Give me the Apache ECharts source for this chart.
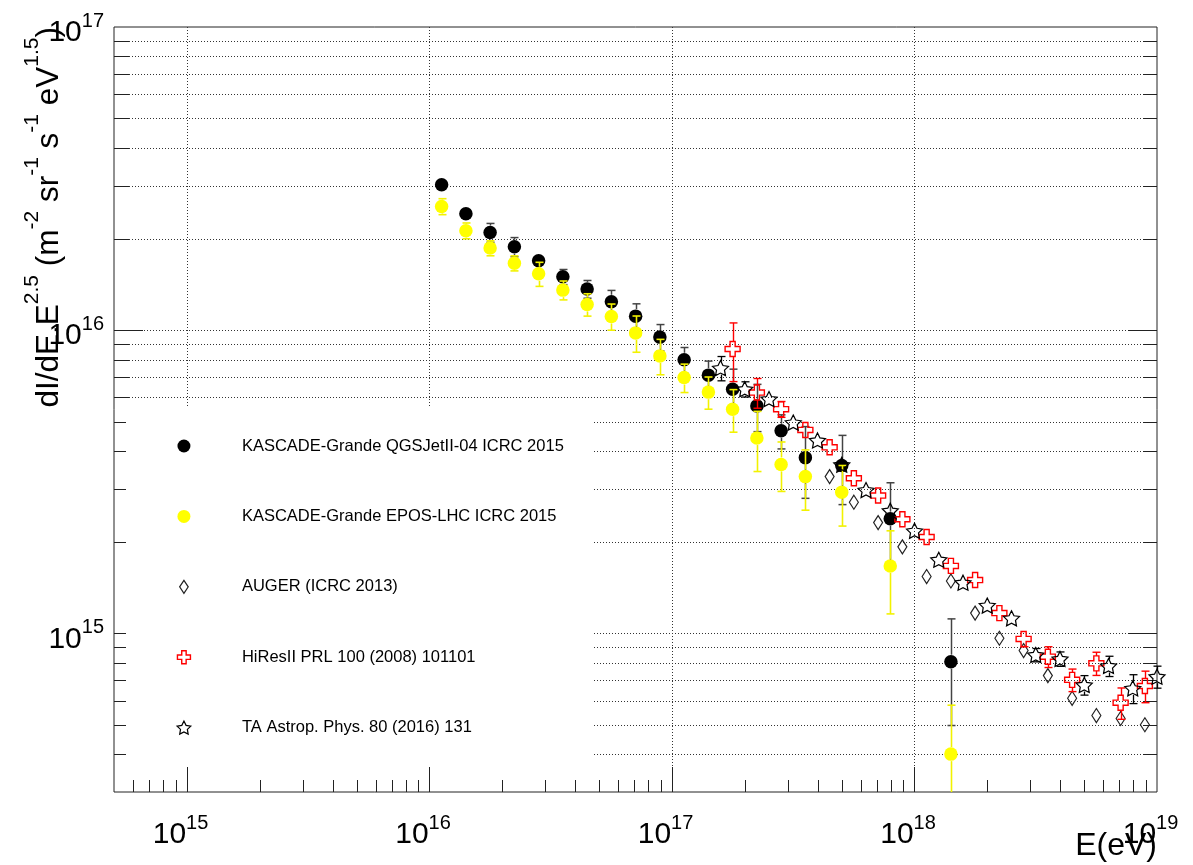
<!DOCTYPE html>
<html>
<head>
<meta charset="utf-8">
<script src="https://cdn.jsdelivr.net/npm/echarts@6/dist/echarts.min.js"></script>
<style>
  html, body { margin: 0; padding: 0; background: #fff; }
  #chart { width: 1193px; height: 865px; }
</style>
</head>
<body>
<div id="chart"></div>
<script>
// ---- data: energy (eV) and flux dI/dE * E^2.5 ----
const seriesNames = [
  'KASCADE-Grande QGSJetII-04 ICRC 2015',
  'KASCADE-Grande EPOS-LHC ICRC 2015',
  'AUGER (ICRC 2013)',
  'HiResII PRL 100 (2008) 101101',
  'TA Astrop. Phys. 80 (2016) 131'
];

const kgEnergy = [1.122e16, 1.413e16, 1.778e16, 2.239e16, 2.818e16, 3.548e16, 4.467e16, 5.623e16, 7.079e16, 8.913e16,
                  1.122e17, 1.413e17, 1.778e17, 2.239e17, 2.818e17, 3.548e17, 5.012e17, 7.943e17, 1.413e18];
const qgsFlux = [3.02e16, 2.42e16, 2.10e16, 1.884e16, 1.694e16, 1.50e16, 1.367e16, 1.241e16, 1.113e16, 9.49e15,
                 7.99e15, 7.11e15, 6.39e15, 5.63e15, 4.66e15, 3.80e15, 3.58e15, 2.39e15, 8.07e14];
const qgsErr  = [1.4e15, 1.1e15, 1.5e15, 1.37e15, 0.8e15, 0.86e15, 0.92e15, 1.12e15, 1.09e15, 0.95e15,
                 0.78e15, 0.8e15, 1.05e15, 1.0e15, 0.6e15, 1.01e15, 0.92e15, 0.75e15, 3.1e14];
const eposFlux = [2.56e16, 2.13e16, 1.866e16, 1.664e16, 1.535e16, 1.356e16, 1.216e16, 1.110e16, 9.80e15, 8.23e15,
                  6.98e15, 6.25e15, 5.49e15, 4.41e15, 3.61e15, 3.29e15, 2.92e15, 1.67e15, 4.0e14];
const eposErr  = [1.55e15, 1.28e15, 1.06e15, 0.95e15, 1.4e15, 0.97e15, 1.03e15, 1.1e15, 1.34e15, 1.1e15,
                  0.75e15, 0.76e15, 0.88e15, 0.99e15, 0.67e15, 0.74e15, 0.66e15, 0.51e15, 1.8e14];

const augerEnergy = [4.467e17, 5.623e17, 7.079e17, 8.913e17, 1.122e18, 1.413e18, 1.778e18, 2.239e18, 2.818e18,
                     3.548e18, 4.467e18, 5.623e18, 7.079e18, 8.913e18];
const augerFlux   = [3.29e15, 2.71e15, 2.32e15, 1.93e15, 1.54e15, 1.49e15, 1.167e15, 9.64e14, 8.78e14,
                     7.26e14, 6.11e14, 5.36e14, 5.24e14, 5.0e14];

const hiresEnergy = [1.778e17, 2.239e17, 2.818e17, 3.548e17, 4.467e17, 5.623e17, 7.079e17, 8.913e17, 1.122e18,
                     1.413e18, 1.778e18, 2.239e18, 2.818e18, 3.548e18, 4.467e18, 5.623e18, 7.079e18, 8.913e18];
const hiresFlux   = [8.67e15, 6.23e15, 5.49e15, 4.69e15, 4.11e15, 3.25e15, 2.85e15, 2.38e15, 2.08e15,
                     1.67e15, 1.50e15, 1.167e15, 9.59e14, 8.38e14, 7.03e14, 7.97e14, 5.91e14, 6.71e14];
const hiresErr    = [1.9e15, 0.7e15, 0.33e15, 0.22e15, 0.15e15, 0.12e15, 0.1e15, 0.08e15, 0.07e15,
                     0.06e15, 0.05e15, 0.04e15, 0.55e14, 0.66e14, 0.6e14, 0.7e14, 0.7e14, 0.8e14];

const taEnergy = [1.585e17, 1.995e17, 2.512e17, 3.162e17, 3.981e17, 5.012e17, 6.310e17, 7.943e17, 1.0e18, 1.259e18,
                  1.585e18, 1.995e18, 2.512e18, 3.162e18, 3.981e18, 5.012e18, 6.310e18, 7.943e18, 1.0e19];
const taFlux   = [7.50e15, 6.39e15, 5.93e15, 4.96e15, 4.33e15, 3.6e15, 2.97e15, 2.54e15, 2.18e15, 1.75e15,
                  1.47e15, 1.236e15, 1.122e15, 8.49e14, 8.24e14, 6.76e14, 7.81e14, 6.59e14, 7.2e14];
const taErr    = [0.69e15, 0.37e15, 0.25e15, 0.15e15, 0.12e15, 0.1e15, 0.09e15, 0.08e15, 0.07e15, 0.06e15,
                  0.055e15, 0.05e15, 0.05e15, 0.43e14, 0.45e14, 0.5e14, 0.6e14, 0.72e14, 0.6e14];

// ---- axes ----
const xRange = [5e14, 1e19];
const yRange = [3e14, 1e17];
const xDecades = [15, 16, 17, 18, 19];   // labelled x ticks: 10^n
const yDecades = [15, 16, 17];           // labelled y ticks: 10^n
const xTitle = 'E(eV)';
const yTitle = '{tb|dI/dE.E}{ts|2.5}{tb| (m}{ts|-2}{tb| sr}{ts|-1}{tb| s}{ts|-1}{tb| eV}{ts|1.5}{tb|)}';

const FONT = '"Liberation Sans", Arial, Helvetica, sans-serif';

// minor ticks at 2..9 x 10^n inside the range
function minorTicks(range) {
  const out = [];
  const d0 = Math.floor(Math.log10(range[0])), d1 = Math.ceil(Math.log10(range[1]));
  for (let d = d0; d < d1; d++) {
    for (let k = 2; k <= 9; k++) {
      const v = k * Math.pow(10, d);
      if (v > range[0] * 1.0001 && v < range[1] * 0.9999) out.push(v);
    }
  }
  return out;
}
const xMajor = xDecades.map(d => Math.pow(10, d));
const yMajor = yDecades.map(d => Math.pow(10, d));
const xMinor = minorTicks(xRange);
const yMinor = minorTicks(yRange);

// frame decorations: dotted grid + inward ticks on bottom, left and right
function renderFrame(params, api) {
  const cs = params.coordSys;
  const L = cs.x, T = cs.y, R = cs.x + cs.width, B = cs.y + cs.height;
  const X = v => Math.round(api.coord([v, yRange[0]])[0]) + 0.5;
  const Y = v => Math.round(api.coord([xRange[0], v])[1]) + 0.5;
  const dotted = { stroke: '#333', lineWidth: 1, lineDash: [1, 2] };
  const solid = { stroke: '#222', lineWidth: 1 };
  const els = [];
  const seg = (x1, y1, x2, y2, style) => els.push({ type: 'line', shape: { x1, y1, x2, y2 }, style });
  xMajor.forEach(v => { const x = X(v); if (x > L + 1 && x < R - 1) seg(x, T, x, B, dotted); });
  yMajor.concat(yMinor).forEach(v => { const y = Y(v); if (y > T + 1 && y < B - 1) seg(L, y, R, y, dotted); });
  xMajor.forEach(v => { const x = X(v); if (x > L + 1 && x < R - 1) seg(x, B, x, B - 25, solid); });
  xMinor.forEach(v => { const x = X(v); seg(x, B, x, B - 12, solid); });
  yMajor.forEach(v => {
    const y = Y(v);
    if (y > T + 1 && y < B - 1) { seg(L, y, L + 29, y, solid); seg(R, y, R - 29, y, solid); }
  });
  yMinor.forEach(v => { const y = Y(v); seg(L, y, L + 15, y, solid); seg(R, y, R - 14, y, solid); });
  return { type: 'group', children: els };
}

// vertical error bars with end caps, kept outside the marker
function errorBars(color, half, width) {
  return function (params, api) {
    const x = api.value(0), y = api.value(1), e = api.value(2);
    const cs = params.coordSys;
    const T = cs.y, B = cs.y + cs.height;
    const p = api.coord([x, y]);
    const px = Math.round(p[0]) + 0.5;
    const upVal = y + e, loVal = y - e;
    const hi = upVal < yRange[1] ? api.coord([x, upVal])[1] : T;
    const lo = loVal > yRange[0] ? api.coord([x, loVal])[1] : B;
    const st = { stroke: color, lineWidth: width };
    const cap = 4;
    const els = [];
    if (p[1] - half > hi) {
      els.push({ type: 'line', shape: { x1: px, y1: p[1] - half, x2: px, y2: hi }, style: st });
      if (upVal < yRange[1]) els.push({ type: 'line', shape: { x1: px - cap, y1: hi, x2: px + cap, y2: hi }, style: st });
    }
    if (lo > p[1] + half) {
      els.push({ type: 'line', shape: { x1: px, y1: p[1] + half, x2: px, y2: lo }, style: st });
      if (loVal > yRange[0]) els.push({ type: 'line', shape: { x1: px - cap, y1: lo, x2: px + cap, y2: lo }, style: st });
    }
    return { type: 'group', children: els };
  };
}

function starPath(inner) {
  const pts = [];
  for (let k = 0; k < 10; k++) {
    const r = k % 2 ? inner : 1;
    const a = -Math.PI / 2 + k * Math.PI / 5;
    pts.push((r * Math.cos(a)).toFixed(3) + ',' + (r * Math.sin(a)).toFixed(3));
  }
  return 'path://M' + pts.join('L') + 'Z';
}
const diamondPath = 'path://M0,-10L5.5,0L0,10L-5.5,0Z';
const diamondIcon = 'path://M0,-10L6.6,0L0,10L-6.6,0Z';
const crossPath = 'path://M-3.4,-10H3.4V-3.4H10V3.4H3.4V10H-3.4V3.4H-10V-3.4H-3.4Z';
const openStar = starPath(0.5);

const pairs = (xs, ys) => ys.map((v, i) => [xs[i], v]);
const triples = (xs, ys, es) => ys.map((v, i) => [xs[i], v, es[i]]);

function powerLabel(value) {
  const lg = Math.log10(value);
  const n = Math.round(lg);
  if (Math.abs(lg - n) > 1e-6) return '';
  return '{b|10}{s|' + n + '}';
}
const labelRich = {
  b: { fontFamily: FONT, fontSize: 30, lineHeight: 30, color: '#000', padding: [12, 0, 0, 0] },
  s: { fontFamily: FONT, fontSize: 20, lineHeight: 20, color: '#000', padding: [5.5, 0, 16.5, 0] }
};

const chart = echarts.init(document.getElementById('chart'), null, { renderer: 'canvas' });

const hollow = (c, w) => ({ color: 'transparent', borderColor: c, borderWidth: w, opacity: 1 });

chart.setOption({
  animation: false,
  backgroundColor: '#fff',
  grid: { left: 114, right: 36, top: 27, bottom: 73, show: true, borderColor: '#222', borderWidth: 1,
          backgroundColor: '#fff', outerBoundsMode: 'none', containLabel: false },
  xAxis: {
    type: 'log', logBase: 10, min: xRange[0], max: xRange[1],
    name: xTitle, nameLocation: 'end', nameGap: 0, nameMoveOverlap: false,
    nameTextStyle: { fontFamily: FONT, fontSize: 32, color: '#000', align: 'right', verticalAlign: 'top',
                     padding: [38, 0, 0, 0] },
    axisLine: { show: false }, axisTick: { show: false }, splitLine: { show: false },
    axisLabel: { formatter: powerLabel, rich: labelRich, margin: 22, padding: [0, 13, 0, 0] }
  },
  yAxis: {
    type: 'log', logBase: 10, min: yRange[0], max: yRange[1],
    name: yTitle, nameLocation: 'end', nameRotate: 90, nameGap: 0, nameMoveOverlap: false,
    nameTextStyle: {
      align: 'right', verticalAlign: 'bottom', padding: [0, 0, 56, 0],
      rich: {
        tb: { fontFamily: FONT, fontSize: 31.5, lineHeight: 31, color: '#000', padding: [13, 0, 0, 0] },
        ts: { fontFamily: FONT, fontSize: 21, lineHeight: 21, color: '#000', padding: [0.9, 0, 22.1, 0] }
      }
    },
    axisLine: { show: false }, axisTick: { show: false }, splitLine: { show: false },
    axisLabel: { formatter: powerLabel, rich: labelRich, margin: 10, align: 'right' }
  },
  legend: {
    orient: 'vertical', left: 171.5, top: 431, itemWidth: 106, itemHeight: 13, itemGap: 50.4,
    selectedMode: false, padding: 5,
    textStyle: { fontFamily: FONT, fontSize: 16.5, color: '#000', lineHeight: 20 },
    data: [
      { name: seriesNames[0], icon: 'circle', itemStyle: { color: '#000', borderWidth: 0, opacity: 1 } },
      { name: seriesNames[1], icon: 'circle', itemStyle: { color: '#ffff00', borderWidth: 0, opacity: 1 } },
      { name: seriesNames[2], icon: diamondIcon, itemStyle: hollow('#222', 1.2) },
      { name: seriesNames[3], icon: crossPath, itemStyle: hollow('#ff0000', 1.4) },
      { name: seriesNames[4], icon: openStar, itemStyle: hollow('#000', 1.2) }
    ]
  },
  graphic: {
    elements: [
      // white legend panel over the grid
      { type: 'rect', z: 2, silent: true, shape: { x: 126, y: 407, width: 467, height: 359 },
        style: { fill: '#fff' } }
    ]
  },
  series: [
    { type: 'custom', name: 'frame', z: 1, silent: true, clip: false, data: [[1e16, 1e16]],
      encode: { x: 0, y: 1 }, renderItem: renderFrame },

    { type: 'custom', name: 'qgs-err', z: 3, silent: true, data: triples(kgEnergy, qgsFlux, qgsErr),
      encode: { x: 0, y: 1 }, renderItem: errorBars('#444', 7, 1.5) },
    { type: 'scatter', name: seriesNames[0], z: 4, silent: true, symbol: 'circle', symbolSize: 13.5,
      itemStyle: { color: '#000', opacity: 1 }, emphasis: { disabled: true }, data: pairs(kgEnergy, qgsFlux) },

    { type: 'custom', name: 'epos-err', z: 5, silent: true, data: triples(kgEnergy, eposFlux, eposErr),
      encode: { x: 0, y: 1 }, renderItem: errorBars('#f2f200', 7, 1.6) },
    { type: 'scatter', name: seriesNames[1], z: 6, silent: true, symbol: 'circle', symbolSize: 13.5,
      itemStyle: { color: '#ffff00', opacity: 1 }, emphasis: { disabled: true }, data: pairs(kgEnergy, eposFlux) },

    { type: 'scatter', name: seriesNames[2], z: 7, silent: true, symbol: diamondPath, symbolSize: [9, 14],
      itemStyle: hollow('#222', 1.2), emphasis: { disabled: true }, data: pairs(augerEnergy, augerFlux) },

    { type: 'custom', name: 'hires-err', z: 8, silent: true, data: triples(hiresEnergy, hiresFlux, hiresErr),
      encode: { x: 0, y: 1 }, renderItem: errorBars('#ff0000', 7.5, 1.4) },
    { type: 'scatter', name: seriesNames[3], z: 9, silent: true, symbol: crossPath, symbolSize: [15, 15],
      itemStyle: hollow('#ff0000', 1.4), emphasis: { disabled: true }, data: pairs(hiresEnergy, hiresFlux) },

    { type: 'custom', name: 'ta-err', z: 10, silent: true, data: triples(taEnergy, taFlux, taErr),
      encode: { x: 0, y: 1 }, renderItem: errorBars('#000', 6.5, 1.3) },
    { type: 'scatter', name: seriesNames[4], z: 11, silent: true, symbol: openStar, symbolSize: [16, 15],
      itemStyle: hollow('#000', 1.2), emphasis: { disabled: true }, data: pairs(taEnergy, taFlux) }
  ]
});
</script>
</body>
</html>
